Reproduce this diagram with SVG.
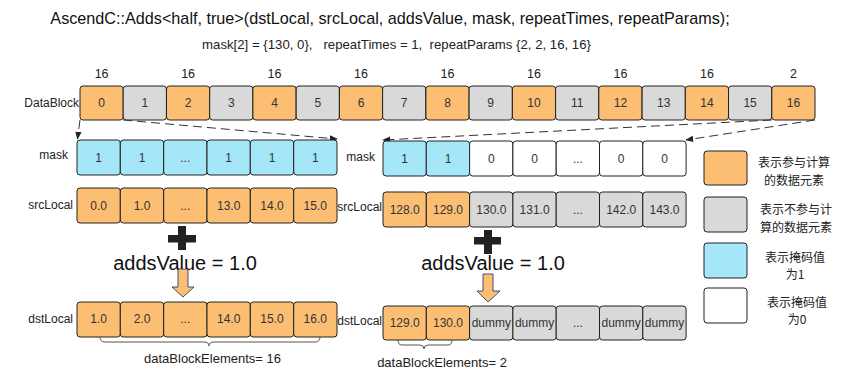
<svg xmlns="http://www.w3.org/2000/svg" width="842" height="375" viewBox="0 0 842 375">
<style>
text{font-family:"Liberation Sans",Arial,sans-serif;}
.c{stroke:#222;stroke-width:1;}
.o{fill:#FBBE73;}
.g{fill:#D9D9D9;}
.b{fill:#A6E6F9;}
.w{fill:#FFFFFF;}
.n{font-size:12px;fill:#333;text-anchor:middle;}
.lb{font-size:12px;fill:#222;text-anchor:end;}
.top{font-size:12.5px;fill:#222;text-anchor:middle;}
.lg{font-family:"Noto Sans CJK SC",sans-serif;font-size:12px;fill:#222;text-anchor:middle;}
.big{font-size:20px;fill:#111;text-anchor:middle;}
.dash{stroke:#333;stroke-width:1;fill:none;stroke-dasharray:9,5;marker-end:url(#ah);}
.brace{stroke:#555;stroke-width:1;fill:none;}
.arr{fill:#FBBE73;stroke:#1F2A5A;stroke-width:0.8;}
.plus{fill:#222;}
.be{font-size:13px;fill:#222;text-anchor:middle;}
</style>
<defs>
<marker id="ah" viewBox="0 0 10 10" refX="9" refY="5" markerWidth="8" markerHeight="8" orient="auto" markerUnits="userSpaceOnUse">
<path d="M0,1 L10,5 L0,9 z" fill="#222"/>
</marker>
</defs>

<text x="390" y="24" font-size="16.2" fill="#111" text-anchor="middle">AscendC::Adds&lt;half, true&gt;(dstLocal, srcLocal, addsValue, mask, repeatTimes, repeatParams);</text>
<text x="396.5" y="49" font-size="13.2" fill="#222" text-anchor="middle" xml:space="preserve">mask[2] = {130, 0},   repeatTimes = 1,  repeatParams {2, 2, 16, 16}</text>

<g id="datablock-counts">
<text class="top" x="101.6" y="78">16</text>
<text class="top" x="188.1" y="78">16</text>
<text class="top" x="274.5" y="78">16</text>
<text class="top" x="361.0" y="78">16</text>
<text class="top" x="447.5" y="78">16</text>
<text class="top" x="534.0" y="78">16</text>
<text class="top" x="620.4" y="78">16</text>
<text class="top" x="706.9" y="78">16</text>
<text class="top" x="793.4" y="78">2</text>
</g>
<text class="lb" x="79" y="107">DataBlock</text>
<g id="datablock">
<g id="db0"><rect class="c o" x="80" y="86" width="43.2" height="34" rx="3"/><text class="n" x="101.6" y="107">0</text></g>
<g id="db1"><rect class="c g" x="123.2" y="86" width="43.2" height="34" rx="3"/><text class="n" x="144.8" y="107">1</text></g>
<g id="db2"><rect class="c o" x="166.5" y="86" width="43.2" height="34" rx="3"/><text class="n" x="188.1" y="107">2</text></g>
<g id="db3"><rect class="c g" x="209.7" y="86" width="43.2" height="34" rx="3"/><text class="n" x="231.3" y="107">3</text></g>
<g id="db4"><rect class="c o" x="252.9" y="86" width="43.2" height="34" rx="3"/><text class="n" x="274.5" y="107">4</text></g>
<g id="db5"><rect class="c g" x="296.2" y="86" width="43.2" height="34" rx="3"/><text class="n" x="317.8" y="107">5</text></g>
<g id="db6"><rect class="c o" x="339.4" y="86" width="43.2" height="34" rx="3"/><text class="n" x="361.0" y="107">6</text></g>
<g id="db7"><rect class="c g" x="382.6" y="86" width="43.2" height="34" rx="3"/><text class="n" x="404.2" y="107">7</text></g>
<g id="db8"><rect class="c o" x="425.9" y="86" width="43.2" height="34" rx="3"/><text class="n" x="447.5" y="107">8</text></g>
<g id="db9"><rect class="c g" x="469.1" y="86" width="43.2" height="34" rx="3"/><text class="n" x="490.7" y="107">9</text></g>
<g id="db10"><rect class="c o" x="512.4" y="86" width="43.2" height="34" rx="3"/><text class="n" x="534.0" y="107">10</text></g>
<g id="db11"><rect class="c g" x="555.6" y="86" width="43.2" height="34" rx="3"/><text class="n" x="577.2" y="107">11</text></g>
<g id="db12"><rect class="c o" x="598.8" y="86" width="43.2" height="34" rx="3"/><text class="n" x="620.4" y="107">12</text></g>
<g id="db13"><rect class="c g" x="642.1" y="86" width="43.2" height="34" rx="3"/><text class="n" x="663.7" y="107">13</text></g>
<g id="db14"><rect class="c o" x="685.3" y="86" width="43.2" height="34" rx="3"/><text class="n" x="706.9" y="107">14</text></g>
<g id="db15"><rect class="c g" x="728.5" y="86" width="43.2" height="34" rx="3"/><text class="n" x="750.1" y="107">15</text></g>
<g id="db16"><rect class="c o" x="771.8" y="86" width="43.2" height="34" rx="3"/><text class="n" x="793.4" y="107">16</text></g>
</g>

<g id="connectors">
<path class="dash" d="M80,120 L77.5,139"/>
<path class="dash" d="M123.2,120 L337,139"/>
<path class="dash" d="M771.8,120 L383,140"/>
<path class="dash" d="M815,120 L686,140"/>
</g>

<text class="lb" x="68" y="159">mask</text>
<g id="mask-left">
<g><rect class="c b" x="77" y="140" width="43.3" height="35" rx="3"/><text class="n" x="98.7" y="162">1</text></g>
<g><rect class="c b" x="120.3" y="140" width="43.3" height="35" rx="3"/><text class="n" x="142" y="162">1</text></g>
<g><rect class="c b" x="163.7" y="140" width="43.3" height="35" rx="3"/><text class="n" x="185.3" y="162">...</text></g>
<g><rect class="c b" x="207" y="140" width="43.3" height="35" rx="3"/><text class="n" x="228.7" y="162">1</text></g>
<g><rect class="c b" x="250.3" y="140" width="43.3" height="35" rx="3"/><text class="n" x="272" y="162">1</text></g>
<g><rect class="c b" x="293.7" y="140" width="43.3" height="35" rx="3"/><text class="n" x="315.3" y="162">1</text></g>
</g>

<text class="lb" x="73" y="209">srcLocal</text>
<g id="src-left">
<g><rect class="c o" x="77" y="188" width="43.3" height="35" rx="3"/><text class="n" x="98.7" y="210">0.0</text></g>
<g><rect class="c o" x="120.3" y="188" width="43.3" height="35" rx="3"/><text class="n" x="142" y="210">1.0</text></g>
<g><rect class="c o" x="163.7" y="188" width="43.3" height="35" rx="3"/><text class="n" x="185.3" y="210">...</text></g>
<g><rect class="c o" x="207" y="188" width="43.3" height="35" rx="3"/><text class="n" x="228.7" y="210">13.0</text></g>
<g><rect class="c o" x="250.3" y="188" width="43.3" height="35" rx="3"/><text class="n" x="272" y="210">14.0</text></g>
<g><rect class="c o" x="293.7" y="188" width="43.3" height="35" rx="3"/><text class="n" x="315.3" y="210">15.0</text></g>
</g>

<g id="op-left">
<rect class="plus" x="178" y="226" width="8" height="24"/>
<rect class="plus" x="168" y="235" width="28" height="7.5"/>
<text class="big" x="185" y="270">addsValue = 1.0</text>
<path class="arr" d="M178,269 L188,269 L188,287 L194,287 L183,297 L172,287 L178,287 z"/>
</g>

<text class="lb" x="73" y="323">dstLocal</text>
<g id="dst-left">
<g><rect class="c o" x="77" y="302" width="43.3" height="35" rx="3"/><text class="n" x="98.7" y="323">1.0</text></g>
<g><rect class="c o" x="120.3" y="302" width="43.3" height="35" rx="3"/><text class="n" x="142" y="323">2.0</text></g>
<g><rect class="c o" x="163.7" y="302" width="43.3" height="35" rx="3"/><text class="n" x="185.3" y="323">...</text></g>
<g><rect class="c o" x="207" y="302" width="43.3" height="35" rx="3"/><text class="n" x="228.7" y="323">14.0</text></g>
<g><rect class="c o" x="250.3" y="302" width="43.3" height="35" rx="3"/><text class="n" x="272" y="323">15.0</text></g>
<g><rect class="c o" x="293.7" y="302" width="43.3" height="35" rx="3"/><text class="n" x="315.3" y="323">16.0</text></g>
</g>
<g id="brace-left">
<path class="brace" d="M100,337 Q100,342 105,342 L204,342 Q209,342 209,346 Q209,342 214,342 L315,342 Q320,342 320,337"/>
<text class="be" x="212.5" y="363">dataBlockElements= 16</text>
</g>

<text class="lb" x="375" y="161">mask</text>
<g id="mask-right">
<g><rect class="c b" x="383" y="141" width="43.3" height="35" rx="3"/><text class="n" x="404.7" y="163">1</text></g>
<g><rect class="c b" x="426.3" y="141" width="43.3" height="35" rx="3"/><text class="n" x="448" y="163">1</text></g>
<g><rect class="c w" x="469.6" y="141" width="43.3" height="35" rx="3"/><text class="n" x="491.3" y="163">0</text></g>
<g><rect class="c w" x="512.9" y="141" width="43.3" height="35" rx="3"/><text class="n" x="534.6" y="163">0</text></g>
<g><rect class="c w" x="556.2" y="141" width="43.3" height="35" rx="3"/><text class="n" x="577.9" y="163">...</text></g>
<g><rect class="c w" x="599.5" y="141" width="43.3" height="35" rx="3"/><text class="n" x="621.2" y="163">0</text></g>
<g><rect class="c w" x="642.8" y="141" width="43.3" height="35" rx="3"/><text class="n" x="664.5" y="163">0</text></g>
</g>

<text class="lb" x="382" y="211">srcLocal</text>
<g id="src-right">
<g><rect class="c o" x="383" y="192" width="43.3" height="35" rx="3"/><text class="n" x="404.7" y="214">128.0</text></g>
<g><rect class="c o" x="426.3" y="192" width="43.3" height="35" rx="3"/><text class="n" x="448" y="214">129.0</text></g>
<g><rect class="c g" x="469.6" y="192" width="43.3" height="35" rx="3"/><text class="n" x="491.3" y="214">130.0</text></g>
<g><rect class="c g" x="512.9" y="192" width="43.3" height="35" rx="3"/><text class="n" x="534.6" y="214">131.0</text></g>
<g><rect class="c g" x="556.2" y="192" width="43.3" height="35" rx="3"/><text class="n" x="577.9" y="214">...</text></g>
<g><rect class="c g" x="599.5" y="192" width="43.3" height="35" rx="3"/><text class="n" x="621.2" y="214">142.0</text></g>
<g><rect class="c g" x="642.8" y="192" width="43.3" height="35" rx="3"/><text class="n" x="664.5" y="214">143.0</text></g>
</g>

<g id="op-right">
<rect class="plus" x="484" y="230" width="8" height="24"/>
<rect class="plus" x="474" y="237" width="27" height="7.5"/>
<text class="big" x="493" y="270">addsValue = 1.0</text>
<path class="arr" d="M483,274 L493,274 L493,291 L500,291 L488,302 L477,291 L483,291 z"/>
</g>

<text class="lb" x="382" y="325">dstLocal</text>
<g id="dst-right">
<g><rect class="c o" x="383" y="306" width="43.3" height="34" rx="3"/><text class="n" x="404.7" y="327">129.0</text></g>
<g><rect class="c o" x="426.3" y="306" width="43.3" height="34" rx="3"/><text class="n" x="448" y="327">130.0</text></g>
<g><rect class="c g" x="469.6" y="306" width="43.3" height="34" rx="3"/><text class="n" x="491.3" y="327">dummy</text></g>
<g><rect class="c g" x="512.9" y="306" width="43.3" height="34" rx="3"/><text class="n" x="534.6" y="327">dummy</text></g>
<g><rect class="c g" x="556.2" y="306" width="43.3" height="34" rx="3"/><text class="n" x="577.9" y="327">...</text></g>
<g><rect class="c g" x="599.5" y="306" width="43.3" height="34" rx="3"/><text class="n" x="621.2" y="327">dummy</text></g>
<g><rect class="c g" x="642.8" y="306" width="43.3" height="34" rx="3"/><text class="n" x="664.5" y="327">dummy</text></g>
</g>
<g id="brace-right">
<path class="brace" d="M398,340 Q398,345 402,345 L420,345 Q424,345 424,349 Q424,345 428,345 L448,345 Q452,345 452,340"/>
<text class="be" x="442" y="367">dataBlockElements= 2</text>
</g>

<g id="legend">
<g id="lg1"><rect class="c o" x="704" y="151" width="43" height="34" rx="3"/><text class="lg" x="794" y="167">表示参与计算</text><text class="lg" x="794" y="185">的数据元素</text></g>
<g id="lg2"><rect class="c g" x="704" y="197" width="43" height="35" rx="3"/><text class="lg" x="796" y="214">表示不参与计</text><text class="lg" x="796" y="232">算的数据元素</text></g>
<g id="lg3"><rect class="c b" x="704" y="243" width="43" height="35" rx="3"/><text class="lg" x="795" y="262">表示掩码值</text><text class="lg" x="795" y="279">为1</text></g>
<g id="lg4"><rect class="c w" x="704" y="288" width="43" height="35" rx="3"/><text class="lg" x="797" y="307">表示掩码值</text><text class="lg" x="797" y="324">为0</text></g>
</g>
</svg>
